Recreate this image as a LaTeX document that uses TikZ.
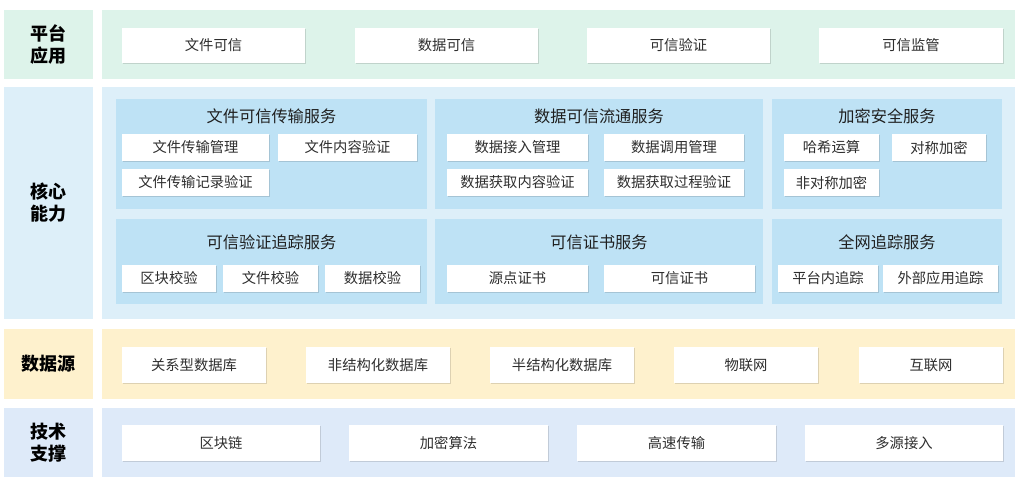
\documentclass[tikz,border=0pt]{standalone}
\usepackage{fontspec}
\setmainfont{Noto Sans CJK SC}
\usetikzlibrary{shadows}
\definecolor{rowA}{HTML}{DDF3EA}
\definecolor{rowB}{HTML}{DDEFF9}
\definecolor{subB}{HTML}{BEE2F5}
\definecolor{rowC}{HTML}{FEF1CD}
\definecolor{rowD}{HTML}{DEEAF9}
\definecolor{txt}{HTML}{2E2E2E}
\tikzset{
  wbox/.style={fill=white, draw=none, inner sep=0pt, text=txt, font=\fontsize{14.3}{17}\selectfont,
    drop shadow={shadow xshift=1.3pt, shadow yshift=-1.3pt, fill=black, opacity=0.13}},
  panel/.style={draw=none, inner sep=0pt},
  lbl/.style={font=\bfseries\fontsize{18}{22}\selectfont, text=black, align=center},
  ttl/.style={font=\fontsize{16.2}{19}\selectfont, text=black!88},
}
\newcommand{\wbx}[6]{\node[wbox,minimum width={(#4-#2)*1pt},minimum height={(#5-#3)*1pt}] (#1) at ({(#2+#4)/2},{(#3+#5)/2}) {#6};}
\newcommand{\pnl}[6]{\node[panel,fill=#6,minimum width={(#4-#2)*1pt},minimum height={(#5-#3)*1pt}] (#1) at ({(#2+#4)/2},{(#3+#5)/2}) {};}
\begin{document}
\begin{tikzpicture}[x=1pt,y=-1pt]
\useasboundingbox (0,0) rectangle (1021,488);
\fill[white] (0,0) rectangle (1021,488);
% row backgrounds
\pnl{LA}{4}{10}{93}{79}{rowA}
\pnl{PA}{102}{10}{1015}{79}{rowA}
\pnl{LB}{4}{87}{93}{319}{rowB}
\pnl{PB}{102}{87}{1015}{319}{rowB}
\pnl{LC}{4}{329}{93}{399}{rowC}
\pnl{PC}{102}{329}{1015}{399}{rowC}
\pnl{LD}{4}{408}{93}{477}{rowD}
\pnl{PD}{102}{408}{1015}{477}{rowD}
% labels
\node[lbl] (tA) at (LA.center) {平台\\应用};
\node[lbl] (tB) at (LB.center) {核心\\能力};
\node[lbl] (tC) at (LC.center) {数据源};
\node[lbl] (tD) at (LD.center) {技术\\支撑};
% row 1
\wbx{a1}{122}{28}{305}{63}{文件可信}
\wbx{a2}{355}{28}{538}{63}{数据可信}
\wbx{a3}{587}{28}{770}{63}{可信验证}
\wbx{a4}{819}{28}{1003}{63}{可信监管}
% row 2 sub panels
\pnl{s1}{116}{99}{427}{209}{subB}
\pnl{s2}{435}{99}{763}{209}{subB}
\pnl{s3}{772}{99}{1002}{209}{subB}
\pnl{s4}{116}{219}{427}{304}{subB}
\pnl{s5}{435}{219}{763}{304}{subB}
\pnl{s6}{772}{219}{1002}{304}{subB}
\node[ttl] (h1) at ({(116+427)/2},116) {文件可信传输服务};
\node[ttl] (h2) at ({(435+763)/2},116) {数据可信流通服务};
\node[ttl] (h3) at ({(772+1002)/2},116) {加密安全服务};
\node[ttl] (h4) at ({(116+427)/2},242) {可信验证追踪服务};
\node[ttl] (h5) at ({(435+763)/2},242) {可信证书服务};
\node[ttl] (h6) at ({(772+1002)/2},242) {全网追踪服务};
\wbx{b1}{122}{134}{269}{161}{文件传输管理}
\wbx{b2}{278}{134}{417}{161}{文件内容验证}
\wbx{b3}{122}{169}{269}{196}{文件传输记录验证}
\wbx{b4}{447}{134}{588}{161}{数据接入管理}
\wbx{b5}{604}{134}{744}{161}{数据调用管理}
\wbx{b6}{447}{169}{588}{196}{数据获取内容验证}
\wbx{b7}{604}{169}{744}{196}{数据获取过程验证}
\wbx{b8}{784}{134}{879}{161}{哈希运算}
\wbx{b9}{892}{134}{986}{161}{对称加密}
\wbx{b10}{784}{169}{879}{196}{非对称加密}
\wbx{c1}{122}{265}{216}{292}{区块校验}
\wbx{c2}{223}{265}{318}{292}{文件校验}
\wbx{c3}{325}{265}{420}{292}{数据校验}
\wbx{c4}{447}{265}{588}{292}{源点证书}
\wbx{c5}{604}{265}{755}{292}{可信证书}
\wbx{c6}{778}{265}{878}{292}{平台内追踪}
\wbx{c7}{883}{265}{998}{292}{外部应用追踪}
% row 3
\wbx{d1}{122}{347}{266}{383}{关系型数据库}
\wbx{d2}{306}{347}{450}{383}{非结构化数据库}
\wbx{d3}{490}{347}{634}{383}{半结构化数据库}
\wbx{d4}{674}{347}{818}{383}{物联网}
\wbx{d5}{859}{347}{1003}{383}{互联网}
% row 4
\wbx{e1}{122}{425}{320}{461}{区块链}
\wbx{e2}{349}{425}{548}{461}{加密算法}
\wbx{e3}{577}{425}{776}{461}{高速传输}
\wbx{e4}{805}{425}{1003}{461}{多源接入}
\end{tikzpicture}
\end{document}
